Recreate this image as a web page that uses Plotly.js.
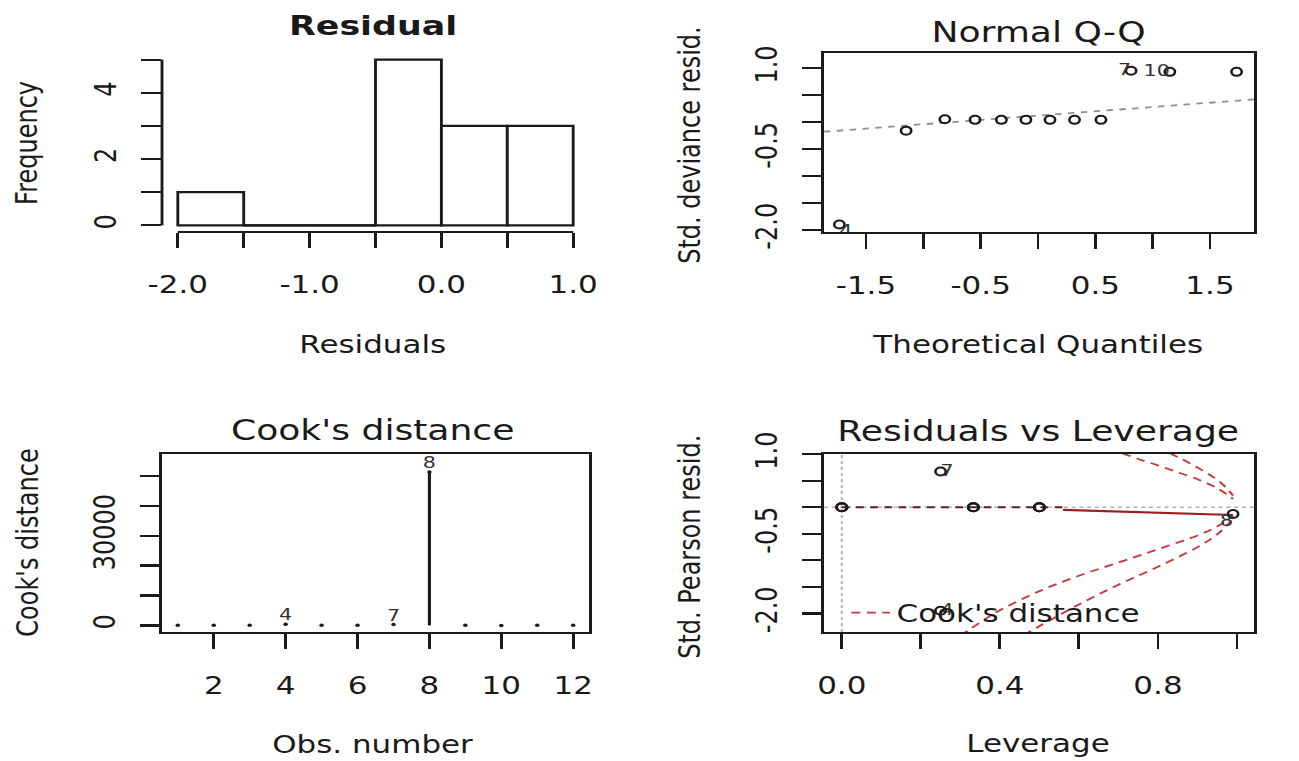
<!DOCTYPE html>
<html>
<head>
<meta charset="utf-8">
<script src="https://cdn.plot.ly/plotly-3.0.1.min.js"></script>
<style>
html,body{margin:0;padding:0;background:#fff;overflow:hidden;}
#plot{width:1007px;height:761px;transform:scaleX(1.28997);transform-origin:0 0;}
</style>
</head>
<body>
<div id="plot"></div>
<script>
// ---------- data ----------
// Panel 1: histogram of residuals
const binEdges = [-2.0, -1.5, -1.0, -0.5, 0.0, 0.5, 1.0];
const binCounts = [1, 0, 0, 5, 3, 3];
const histXTicks = [-2.0, -1.5, -1.0, -0.5, 0.0, 0.5, 1.0];
const histXTickText = ['-2.0', '', '-1.0', '', '0.0', '', '1.0'];
const histYTicks = [0, 1, 2, 3, 4, 5];
const histYTickText = ['0', '', '2', '', '4', ''];

// Panel 2: Normal Q-Q
const qqTheo = [-1.732, -1.150, -0.812, -0.549, -0.319, -0.105, 0.105, 0.319, 0.549, 0.812, 1.150, 1.732];
const qqResid = [-1.90, -0.16, 0.05, 0.04, 0.04, 0.04, 0.04, 0.04, 0.04, 0.95, 0.93, 0.93];
const qqLabelIdx = [0, 9, 10];
const qqLabelText = ['4', '7', '10'];
const qqLabelPos = ['bottom right', 'middle left', 'middle left'];
const qqLineX = [-1.866, 1.884];
const qqLineY = [-0.18, 0.42];
const qqXTicks = [-1.5, -1.0, -0.5, 0.0, 0.5, 1.0, 1.5];
const qqXTickText = ['-1.5', '', '-0.5', '', '0.5', '', '1.5'];
const qqYTicks = [-2.0, -1.5, -1.0, -0.5, 0.0, 0.5, 1.0];
const qqYTickText = ['-2.0', '', '', '-0.5', '', '', '1.0'];

// Panel 3: Cook's distance
const obsNumber = [1, 2, 3, 4, 5, 6, 7, 8, 9, 10, 11, 12];
const cooksD = [30, 20, 15, 350, 25, 40, 300, 51300, 20, 10, 15, 20];
const cookLabelObs = [4, 7, 8];
const cookXTicks = [2, 4, 6, 8, 10, 12];
const cookYTicks = [0, 10000, 20000, 30000, 40000, 50000];
const cookYTickText = ['0', '', '', '30000', '', ''];

// Panel 4: Residuals vs Leverage
const levH = [0.0, 0.333, 0.5, 0.25, 0.333, 0.0, 0.25, 0.99, 0.5, 0.333, 0.0, 0.5];
const levResid = [0.0, 0.0, 0.0, -1.95, 0.0, 0.0, 0.675, -0.125, 0.0, 0.0, 0.0, 0.0];
const levLabelIdx = [3, 6, 7];
const levLabelText = ['4', '7', '8'];
const levLabelPos = ['middle right', 'middle right', 'bottom left'];
const smoothFlatH = [0.0, 0.25, 0.333, 0.5, 0.56];
const smoothFlatR = [0.0, 0.0, 0.0, 0.0, 0.0];
const smoothH = [0.56, 0.74, 0.91, 0.99];
const smoothR = [-0.05, -0.09, -0.13, -0.145];
const cookUp05H = [0.71, 0.75, 0.80, 0.85, 0.90, 0.95, 0.99];
const cookUp05R = [1.02, 0.91, 0.79, 0.66, 0.53, 0.36, 0.16];
const cookUp1H = [0.83, 0.86, 0.90, 0.94, 0.97, 0.99];
const cookUp1R = [1.02, 0.91, 0.75, 0.57, 0.39, 0.22];
const cookLo05H = [0.30, 0.35, 0.40, 0.50, 0.60, 0.70, 0.80, 0.90, 0.95, 0.99];
const cookLo05R = [-2.42, -2.17, -1.94, -1.58, -1.29, -1.04, -0.79, -0.53, -0.36, -0.16];
const cookLo1H = [0.46, 0.50, 0.60, 0.70, 0.80, 0.90, 0.95, 0.99];
const cookLo1R = [-2.41, -2.24, -1.83, -1.46, -1.12, -0.75, -0.51, -0.22];
const cookRightLabelY = [-0.22, -0.16, 0.16, 0.22];
const cookRightLabelText = ['1', '0.5', '0.5', '1'];
const levXTicks = [0.0, 0.2, 0.4, 0.6, 0.8, 1.0];
const levXTickText = ['0.0', '', '0.4', '', '0.8', ''];
const levYTicks = [-2.0, -1.5, -1.0, -0.5, 0.0, 0.5, 1.0];
const levYTickText = ['-2.0', '', '', '-0.5', '', '', '1.0'];

// ---------- styling ----------
const FONT = '"DejaVu Sans", sans-serif';
const INK = '#1a1a1a';
const RED = '#c43c3c';
const W = 1299, H = 761;
const px = v => v / W;
const py = v => 1 - v / H;
const colL = [px(162), px(589)];
const colR = [px(824), px(1254)];
const rowT = [py(232), py(53)];
const rowB = [py(632), py(454)];

function ax(o) {
  return Object.assign({
    showgrid: false, zeroline: false, ticks: 'outside', ticklen: 15, tickwidth: 2.2,
    tickcolor: INK, tickfont: {family: FONT, size: 24, color: INK},
    showline: true, mirror: true, linecolor: INK, linewidth: 2.2,
    tickmode: 'array', fixedrange: true
  }, o);
}

// ---------- traces ----------
const traces = [];

// Histogram
const binCenters = binCounts.map((c, i) => (binEdges[i] + binEdges[i + 1]) / 2);
const binWidths = binCounts.map((c, i) => binEdges[i + 1] - binEdges[i]);
traces.push({type: 'bar', x: binCenters, y: binCounts, width: binWidths, xaxis: 'x', yaxis: 'y',
  marker: {color: '#ffffff', line: {color: INK, width: 2.2}}, showlegend: false, hoverinfo: 'skip'});
const zx = [], zy = [];
binCounts.forEach((c, i) => { if (c === 0) { zx.push(binEdges[i], binEdges[i + 1], null); zy.push(0, 0, null); } });
traces.push({type: 'scatter', mode: 'lines', x: zx, y: zy, xaxis: 'x', yaxis: 'y',
  line: {color: INK, width: 2.2}, showlegend: false, hoverinfo: 'skip'});

// Normal Q-Q
traces.push({type: 'scatter', mode: 'lines', x: qqLineX, y: qqLineY, xaxis: 'x2', yaxis: 'y2',
  line: {color: '#8f8f8f', width: 1.8, dash: '5px,5px'}, showlegend: false, hoverinfo: 'skip'});
traces.push({type: 'scatter', mode: 'markers', x: qqTheo, y: qqResid, xaxis: 'x2', yaxis: 'y2',
  marker: {symbol: 'circle-open', size: 8, color: INK, line: {width: 2}}, showlegend: false});
traces.push({type: 'scatter', mode: 'text', x: qqLabelIdx.map(i => qqTheo[i]), y: qqLabelIdx.map(i => qqResid[i]),
  text: qqLabelText, textposition: qqLabelPos, cliponaxis: true, xaxis: 'x2', yaxis: 'y2',
  textfont: {family: FONT, size: 16, color: '#333'}, showlegend: false, hoverinfo: 'skip'});

// Cook's distance
const sx = [], sy = [];
obsNumber.forEach((n, i) => { sx.push(n, n, null); sy.push(0, cooksD[i], null); });
traces.push({type: 'scatter', mode: 'lines', x: sx, y: sy, xaxis: 'x3', yaxis: 'y3',
  line: {color: INK, width: 2.4}, showlegend: false, hoverinfo: 'skip'});
traces.push({type: 'scatter', mode: 'markers', x: obsNumber, y: cooksD, xaxis: 'x3', yaxis: 'y3',
  marker: {symbol: 'circle', size: 3.5, color: INK}, showlegend: false});
traces.push({type: 'scatter', mode: 'text', x: cookLabelObs, y: cookLabelObs.map(n => cooksD[n - 1]),
  text: cookLabelObs.map(String), textposition: 'top center', xaxis: 'x3', yaxis: 'y3', cliponaxis: false,
  textfont: {family: FONT, size: 16, color: '#333'}, showlegend: false, hoverinfo: 'skip'});

// Residuals vs Leverage
const curve = (x, y, show) => ({type: 'scatter', mode: 'lines', x: x, y: y, xaxis: 'x4', yaxis: 'y4',
  line: {color: RED, width: 1.8, dash: '7px,5px', shape: 'spline'}, name: "Cook's distance",
  showlegend: show, hoverinfo: 'skip'});
traces.push(curve(cookUp05H, cookUp05R, true));
traces.push(curve(cookUp1H, cookUp1R, false));
traces.push(curve(cookLo05H, cookLo05R, false));
traces.push(curve(cookLo1H, cookLo1R, false));
traces.push({type: 'scatter', mode: 'lines', x: smoothFlatH, y: smoothFlatR, xaxis: 'x4', yaxis: 'y4',
  line: {color: '#5a2222', width: 2, dash: '6px,5px'}, showlegend: false, hoverinfo: 'skip'});
traces.push({type: 'scatter', mode: 'lines', x: smoothH, y: smoothR, xaxis: 'x4', yaxis: 'y4',
  line: {color: '#a01c1c', width: 2.2}, showlegend: false, hoverinfo: 'skip'});
traces.push({type: 'scatter', mode: 'markers', x: levH, y: levResid, xaxis: 'x4', yaxis: 'y4',
  marker: {symbol: 'circle-open', size: 8, color: INK, line: {width: 2}}, showlegend: false});
traces.push({type: 'scatter', mode: 'text', x: levLabelIdx.map(i => levH[i]), y: levLabelIdx.map(i => levResid[i]),
  text: levLabelText, textposition: levLabelPos, xaxis: 'x4', yaxis: 'y4', cliponaxis: false,
  textfont: {family: FONT, size: 16, color: '#333'}, showlegend: false, hoverinfo: 'skip'});

// ---------- layout ----------
const ann = (text, x, y, size, opts) => Object.assign({text: text, x: px(x), y: py(y), xref: 'paper', yref: 'paper',
  xanchor: 'center', yanchor: 'middle', showarrow: false, font: {family: FONT, size: size, color: INK}}, opts || {});

const layout = {
  width: 1007, height: 761, autosize: false,
  margin: {l: 0, r: 0, t: 0, b: 0, pad: 0},
  paper_bgcolor: '#ffffff', plot_bgcolor: '#ffffff',
  font: {family: FONT, color: INK},
  showlegend: true,
  legend: {x: 655 / 1007, y: py(613), xanchor: 'left', yanchor: 'middle', bgcolor: 'rgba(0,0,0,0)',
    font: {family: FONT, size: 24, color: INK}, borderwidth: 0},
  xaxis: ax({domain: colL, anchor: 'y', range: [-2.12, 1.12], tickvals: histXTicks, ticktext: histXTickText,
    showline: false, ticklabelstandoff: 16}),
  yaxis: ax({domain: rowT, anchor: 'x', range: [-0.2, 5.2], tickvals: histYTicks, ticktext: histYTickText,
    showline: false, tickangle: -90, ticklabelstandoff: 10}),
  xaxis2: ax({domain: colR, anchor: 'y2', range: [-1.866, 1.884], tickvals: qqXTicks, ticktext: qqXTickText,
    ticklabelstandoff: 16}),
  yaxis2: ax({domain: rowT, anchor: 'x2', range: [-2.04, 1.28], tickvals: qqYTicks, ticktext: qqYTickText,
    tickangle: -90, ticklabelstandoff: 10}),
  xaxis3: ax({domain: colL, anchor: 'y3', range: [0.56, 12.44], tickvals: cookXTicks, ticktext: cookXTicks.map(String),
    ticklabelstandoff: 16}),
  yaxis3: ax({domain: rowB, anchor: 'x3', range: [-2205, 57320], tickvals: cookYTicks, ticktext: cookYTickText,
    tickangle: -90, ticklabelstandoff: 10}),
  xaxis4: ax({domain: colR, anchor: 'y4', range: [-0.045, 1.043], tickvals: levXTicks, ticktext: levXTickText,
    ticklabelstandoff: 16}),
  yaxis4: ax({domain: rowB, anchor: 'x4', range: [-2.35, 1.005], tickvals: levYTicks, ticktext: levYTickText,
    tickangle: -90, ticklabelstandoff: 10}),
  yaxis5: {domain: rowB, anchor: 'x4', overlaying: 'y4', side: 'right', range: [-2.35, 1.005],
    tickmode: 'array', tickvals: cookRightLabelY, ticktext: cookRightLabelText, ticks: '', showline: false,
    showgrid: false, zeroline: false, tickangle: 0, ticklabelstandoff: 4,
    tickfont: {family: FONT, size: 11, color: '#d84040'}, fixedrange: true},
  shapes: [
    {type: 'line', xref: 'x', yref: 'y domain', x0: histXTicks[0], x1: histXTicks[histXTicks.length - 1], y0: 0, y1: 0,
      line: {color: INK, width: 2.2}},
    {type: 'line', xref: 'x domain', yref: 'y', x0: 0, x1: 0, y0: histYTicks[0], y1: histYTicks[histYTicks.length - 1],
      line: {color: INK, width: 2.2}},
    {type: 'line', xref: 'x4 domain', yref: 'y4', x0: 0, x1: 1, y0: 0, y1: 0,
      line: {color: '#b0b0b0', width: 1.5, dash: 'dot'}, layer: 'below'},
    {type: 'line', xref: 'x4', yref: 'y4 domain', x0: 0, x1: 0, y0: 0, y1: 1,
      line: {color: '#b0b0b0', width: 1.5, dash: 'dot'}, layer: 'below'}
  ],
  annotations: [
    ann('<b>Residual</b>', 373, 26, 27),
    ann('Normal Q-Q', 1038, 33, 28),
    ann("Cook's distance", 373, 430, 28),
    ann('Residuals vs Leverage', 1038, 431, 28),
    ann('Residuals', 373, 345, 24),
    ann('Theoretical Quantiles', 1038, 345, 24),
    ann('Obs. number', 373, 745, 24),
    ann('Leverage', 1038, 744, 24),
    ann('Frequency', 27, 143, 24, {textangle: -90}),
    ann('Std. deviance resid.', 690, 145, 24, {textangle: -90}),
    ann("Cook's distance", 28, 543, 24, {textangle: -90}),
    ann('Std. Pearson resid.', 690, 547, 24, {textangle: -90})
  ]
};

Plotly.newPlot('plot', traces, layout, {staticPlot: true, displayModeBar: false});
</script>
</body>
</html>
